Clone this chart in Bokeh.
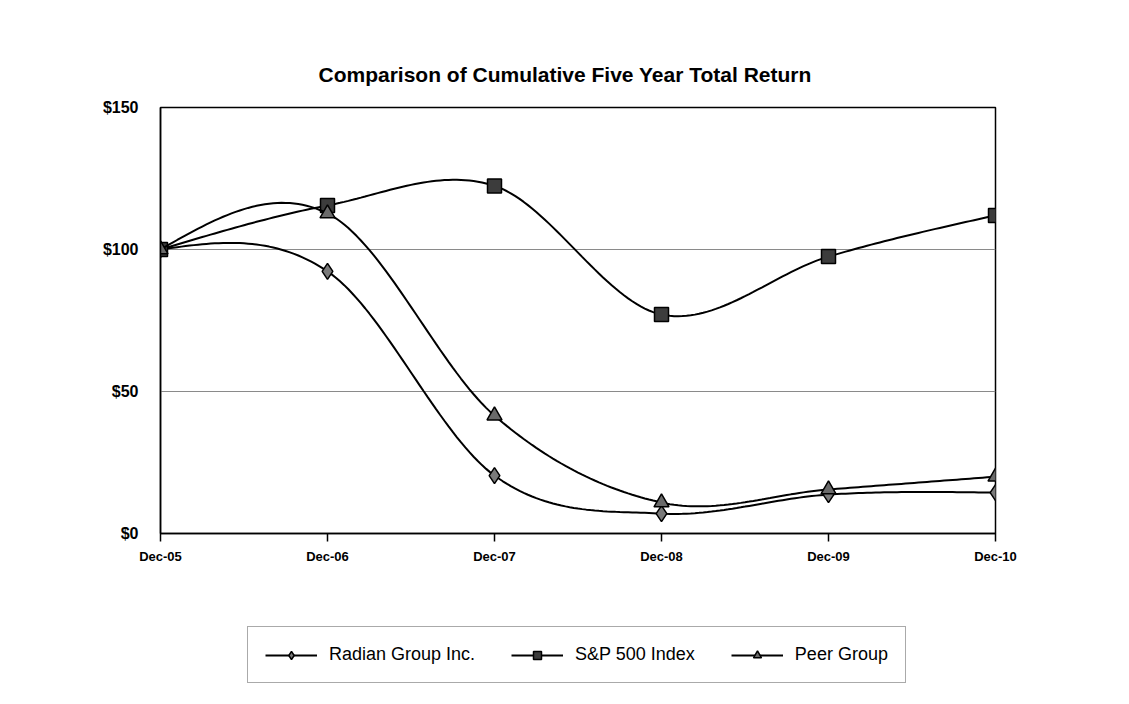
import numpy as np
from bokeh.plotting import figure
from bokeh.layouts import column
from bokeh.models import FixedTicker, Legend, LegendItem
from bokeh.embed import file_html
from bokeh.resources import INLINE

# ---------------- data ----------------
periods = ["Dec-05", "Dec-06", "Dec-07", "Dec-08", "Dec-09", "Dec-10"]
radian = [100, 92.3, 20.4, 7.0, 13.7, 14.4]
sp500 = [100, 115.5, 122.4, 77.1, 97.5, 112.0]
peer = [100, 112.7, 41.5, 10.9, 15.5, 20.0]
series_names = ["Radian Group Inc.", "S&P 500 Index", "Peer Group"]
y_ticks = [0, 50, 100, 150]
y_tick_labels = ["$0", "$50", "$100", "$150"]
title_text = "Comparison of Cumulative Five Year Total Return"

FONT = "Liberation Sans"


def smooth(ys, n=40):
    """Excel-like smoothed line (cubic Hermite / Catmull-Rom)."""
    y = np.asarray(ys, float)
    k = len(y)
    m = np.zeros(k)
    m[1:-1] = (y[2:] - y[:-2]) / 2.0
    m[0] = (3 * (y[1] - y[0]) - m[1]) / 2.0
    m[-1] = (3 * (y[-1] - y[-2]) - m[-2]) / 2.0
    xs, out = [], []
    for i in range(k - 1):
        t = np.linspace(0, 1, n, endpoint=(i == k - 2))
        h00 = 2 * t**3 - 3 * t**2 + 1
        h10 = t**3 - 2 * t**2 + t
        h01 = -2 * t**3 + 3 * t**2
        h11 = t**3 - t**2
        out.extend(h00 * y[i] + h10 * m[i] + h01 * y[i + 1] + h11 * m[i + 1])
        xs.extend(i + t)
    return xs, out


W = 1129
H_CHART, H_LEG = 600, 104
p = figure(width=W, height=H_CHART, x_range=(0, len(periods) - 1), y_range=(0, 150),
           output_backend="svg", toolbar_location=None,
           min_border_left=160, min_border_right=134,
           min_border_top=107, min_border_bottom=H_CHART - 533)
p.background_fill_color = "white"
p.border_fill_color = "white"
p.outline_line_color = "black"
p.outline_line_width = 1.5

# title
p.title.text = title_text
p.title.align = "left"
p.title.offset = 158
p.title.text_font = FONT
p.title.text_font_style = "bold"
p.title.text_font_size = "21px"
p.title.text_color = "black"
p.title.standoff = 44

# axes
xi = list(range(len(periods)))
p.xaxis.ticker = FixedTicker(ticks=xi)
p.xaxis.major_label_overrides = {i: s for i, s in zip(xi, periods)}
p.xaxis.minor_tick_line_color = None
p.xaxis.major_tick_out = 8
p.xaxis.major_tick_in = 0
p.xaxis.major_tick_line_color = "black"
p.xaxis.major_tick_line_width = 1.5
p.xaxis.axis_line_color = "black"
p.xaxis.axis_line_width = 1.5
p.xaxis.major_label_standoff = 7
p.xaxis.major_label_text_font = FONT
p.xaxis.major_label_text_font_style = "bold"
p.xaxis.major_label_text_font_size = "13px"
p.xaxis.major_label_text_color = "black"

p.yaxis.ticker = FixedTicker(ticks=y_ticks)
p.yaxis.major_label_overrides = {v: s for v, s in zip(y_ticks, y_tick_labels)}
p.yaxis.minor_tick_line_color = None
p.yaxis.major_tick_out = 0
p.yaxis.major_tick_in = 0
p.yaxis.axis_line_color = "black"
p.yaxis.axis_line_width = 1.5
p.yaxis.major_label_standoff = 22
p.yaxis.major_label_text_font = FONT
p.yaxis.major_label_text_font_style = "bold"
p.yaxis.major_label_text_font_size = "16px"
p.yaxis.major_label_text_color = "black"

p.xgrid.visible = False
p.ygrid.ticker = FixedTicker(ticks=[50, 100])
p.ygrid.grid_line_color = "#8a8a8a"
p.ygrid.grid_line_width = 1

# legend holder: a second, axis-less figure (its frame is aligned with the chart's)
q = figure(width=W, height=H_LEG, x_range=(0, 1), y_range=(0, 1),
           output_backend="svg", toolbar_location=None,
           x_axis_type=None, y_axis_type=None,
           min_border_left=160, min_border_right=134,
           min_border_top=0, min_border_bottom=0)
q.outline_line_color = None
q.xgrid.visible = False
q.ygrid.visible = False
q.background_fill_color = "white"
q.border_fill_color = "white"

# series
specs = [
    (radian, dict(marker="diamond", size=16, fill_color="#7a7a7a")),
    (sp500, dict(marker="square", size=14, fill_color="#3c3c3c")),
    (peer, dict(marker="triangle", size=15, fill_color="#6a6a6a")),
]
items = []
for name, (vals, mk) in zip(series_names, specs):
    sx, sy = smooth(vals)
    line_kw = dict(line_color="black", line_width=2)
    mark_kw = dict(marker=mk["marker"], size=mk["size"], fill_color=mk["fill_color"],
                   line_color="black", line_width=1.5)
    p.line(sx, sy, **line_kw)
    p.scatter(xi, vals, **mark_kw)
    # same series in the legend holder (outside its visible range) for legend swatches
    lr = q.line(sx, sy, **line_kw)
    sr = q.scatter(xi, vals, **mark_kw)
    items.append(LegendItem(label=name, renderers=[lr, sr]))

legend = Legend(items=items, orientation="horizontal", location=(87, 21))
legend.border_line_color = "#555555"
legend.border_line_width = 1
legend.background_fill_color = "white"
legend.background_fill_alpha = 1
legend.label_text_font = FONT
legend.label_text_font_size = "18px"
legend.label_text_color = "black"
legend.glyph_width = 52
legend.glyph_height = 20
legend.label_standoff = 12
legend.spacing = 36
legend.padding = 17
legend.margin = 0
q.add_layout(legend)

layout = column(p, q, spacing=0)
open("out.html", "w").write(file_html(layout, INLINE))
